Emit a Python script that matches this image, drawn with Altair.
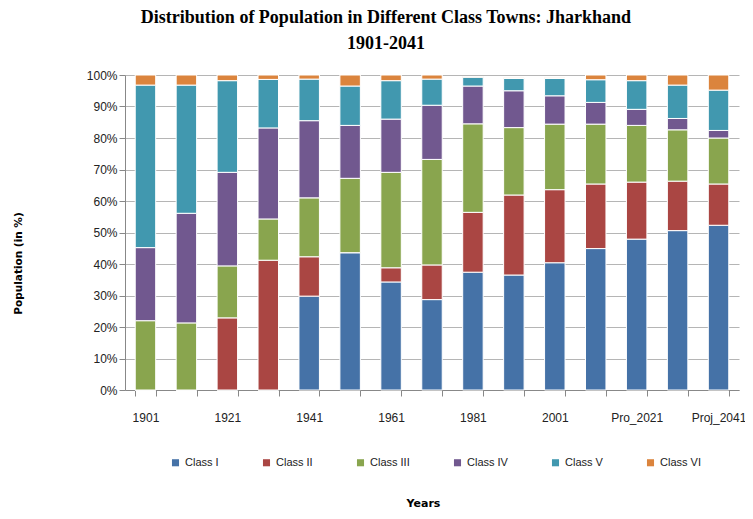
import altair as alt
import pandas as pd

years = ["1901", "1911", "1921", "1931", "1941", "1951", "1961", "1971", "1981",
         "1991", "2001", "2011", "Pro_2021", "Pro_2031", "Proj_2041"]
shown_labels = ["1901", "1921", "1941", "1961", "1981", "2001", "Pro_2021", "Proj_2041"]
classes = ["Class I", "Class II", "Class III", "Class IV", "Class V", "Class VI"]
colors = ["#4572A7", "#AA4643", "#89A54E", "#71588F", "#4198AF", "#DB843D"]

class_i = [0, 0, 0, 0, 29.8, 43.6, 34.3, 28.7, 37.4, 36.5, 40.4, 44.9, 47.9, 50.6, 52.3]
class_ii = [0, 0, 22.9, 41.2, 12.5, 0, 4.5, 11.0, 19.0, 25.4, 23.2, 20.5, 18.1, 15.7, 13.1]
class_iii = [22.0, 21.3, 16.5, 13.1, 18.7, 23.6, 30.3, 33.5, 28.1, 21.4, 20.8, 19.0, 18.0, 16.3, 14.6]
class_iv = [23.2, 34.8, 29.7, 28.9, 24.5, 16.8, 16.9, 17.2, 12.0, 11.7, 9.0, 6.9, 5.1, 3.6, 2.4]
class_v = [51.6, 40.7, 29.1, 15.4, 13.2, 12.5, 12.2, 8.3, 2.8, 3.9, 5.5, 7.2, 9.1, 10.6, 12.8]
class_vi = [3.2, 3.2, 1.8, 1.4, 1.3, 3.5, 1.8, 1.3, 0.2, 0.2, 0.2, 1.5, 1.8, 3.2, 4.8]

series = [class_i, class_ii, class_iii, class_iv, class_v, class_vi]
rows = []
for ci, (cname, vals) in enumerate(zip(classes, series)):
    for y, v in zip(years, vals):
        rows.append({"Year": y, "Class": cname, "Order": ci, "Value": v})
df = pd.DataFrame(rows)

label_list = "[" + ",".join("'" + s + "'" for s in shown_labels) + "]"

chart = alt.Chart(df).mark_bar(stroke="white", strokeWidth=1).encode(
    x=alt.X("Year:N", sort=years,
            scale=alt.Scale(paddingInner=0.5, paddingOuter=0.25),
            axis=alt.Axis(title="Years", labelAngle=0, tickBand="extent",
                          labelExpr=f"indexof({label_list}, datum.value) >= 0 ? datum.label : ''",
                          labelFont="Liberation Sans", labelFontSize=12, labelColor="#222222",
                          labelPadding=16, tickSize=6, tickColor="#888888",
                          domainColor="#888888", titleFont="DejaVu Sans", titleFontSize=11,
                          titleFontWeight="bold", titlePadding=74, titleColor="#000000",
                          titleX=298)),
    y=alt.Y("Value:Q", stack="zero",
            scale=alt.Scale(domain=[0, 100]),
            axis=alt.Axis(title="Population (in %)", values=list(range(0, 101, 10)),
                          labelExpr="datum.value + '%'", labelFont="Liberation Sans",
                          labelFontSize=12, labelColor="#222222", tickSize=6,
                          tickColor="#888888", domainColor="#888888", gridColor="#b5b5b5",
                          titleFont="DejaVu Sans", titleFontSize=10.5, titleFontWeight="bold",
                          titleColor="#000000", titleX=-102, titleY=188)),
    color=alt.Color("Class:N", sort=classes,
                    scale=alt.Scale(domain=classes, range=colors),
                    legend=alt.Legend(title=None, orient="none", direction="horizontal",
                                      legendX=45, legendY=382, symbolType="square",
                                      symbolSize=50, symbolStrokeWidth=0,
                                      labelFont="Liberation Sans", labelFontSize=11,
                                      labelColor="#222222", columnPadding=42, columns=6)),
    order=alt.Order("Order:Q", sort="ascending"),
).properties(
    width=614, height=315,
    title=alt.TitleParams(
        text=["Distribution of Population in Different Class Towns: Jharkhand", "1901-2041"],
        font="Liberation Serif", fontSize=18, fontWeight="bold", color="#000000",
        anchor="middle", dx=-46, lineHeight=26, offset=16),
    autosize=alt.AutoSizeParams(type="none"),
    padding={"left": 117, "top": 67, "right": 6, "bottom": 121},
).configure_view(stroke=None)

chart.save("out.html", embed_options={"renderer": "svg", "actions": False})
